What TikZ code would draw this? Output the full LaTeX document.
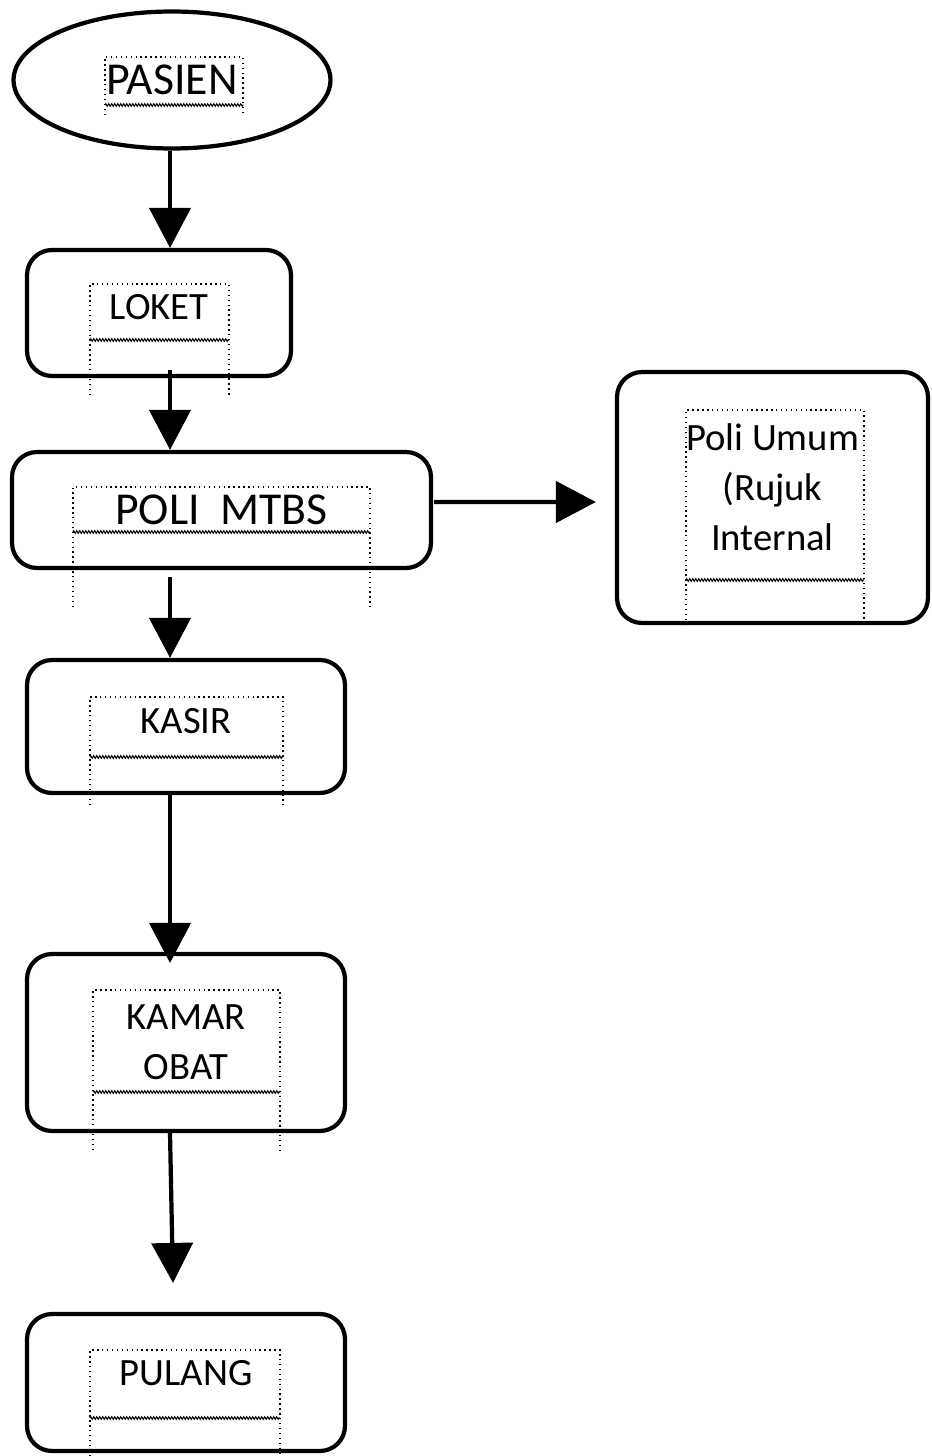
\documentclass[tikz,border=0pt]{standalone}
\usepackage{fontspec}
\setmainfont{Carlito}
\usetikzlibrary{shapes.geometric, arrows.meta, calc, decorations.pathmorphing}

\begin{document}
\begin{tikzpicture}[x=0.02cm, y=-0.02cm, line width=2.4pt,
		main/.style = {draw, rounded corners=0.5cm, align=center, font=\fontsize{22}{28.5}\selectfont},
		start/.style = {draw, ellipse, minimum width=6.34cm, minimum height=2.74cm, font=\fontsize{26}{30}\selectfont},
		arr/.style = {-{Triangle[length=0.8cm, width=0.82cm]}},
		tbox/.style = {line width=0.8pt, dotted},
		twave/.style = {line width=0.6pt, decorate, decoration={zigzag, segment length=0.06cm, amplitude=0.025cm}}]
	\useasboundingbox (0,0) rectangle (931,1456);
	\coordinate (spine) at (170,0);
	
	\node[start] (pasien) at (172,80) {PASIEN};
	\node[main, minimum width=5.28cm, minimum height=2.52cm, text depth=0.24cm] (loket) at (159,313) {LOKET};
	\node[main, minimum width=8.38cm, minimum height=2.32cm, font=\fontsize{26}{30}\selectfont] (mtbs) at (221.5,510) {POLI\ \ MTBS};
	\node[main, minimum width=6.22cm, minimum height=5.02cm, text depth=0.4cm] (umum) at (772.5,497.5) {Poli Umum\\(Rujuk\\Internal};
	\node[main, minimum width=6.36cm, minimum height=2.66cm, text depth=0.24cm] (kasir) at (186,726.5) {KASIR};
	\node[main, minimum width=6.36cm, minimum height=3.54cm] (obat) at (186,1042.5) {KAMAR\\OBAT};
	\node[main, minimum width=6.36cm, minimum height=2.74cm, text depth=0.38cm] (pulang) at (186,1382.5) {PULANG};
	
	\foreach \xa/\ya/\xb/\yb/\yc in {105/57/243/105/115, 90/284/229/340/395, 73/487/370/532/607, 686/410/864/580/625, 90/697/283/757/805, 93/990/280/1092/1150, 90/1350/280/1418/1456}
	{
		\draw[tbox] (\xa,\yc) -- (\xa,\ya) -- (\xb,\ya) -- (\xb,\yc);
		\draw[twave] (\xa,\yb) -- (\xb,\yb);
	}
	
	\draw[arr] (spine |- pasien.south) -- (spine |- loket.north);
	\draw[arr] ($(spine |- loket.south)+(0,-8)$) -- (spine |- mtbs.north);
	\draw[arr] ($(spine |- mtbs.south)+(0,7)$) -- (spine |- kasir.north);
	\draw[arr] (spine |- kasir.south) -- ($(spine |- obat.north)+(0,11)$);
	\draw[arr] ($(obat.south)+(-16,0)$) -- ($(pulang.north)+(-13,-29)$);
	\draw[arr] ($(mtbs.east)+(1,-8)$) -- ($(umum.west)+(-19,4.5)$);
\end{tikzpicture}
\end{document}
